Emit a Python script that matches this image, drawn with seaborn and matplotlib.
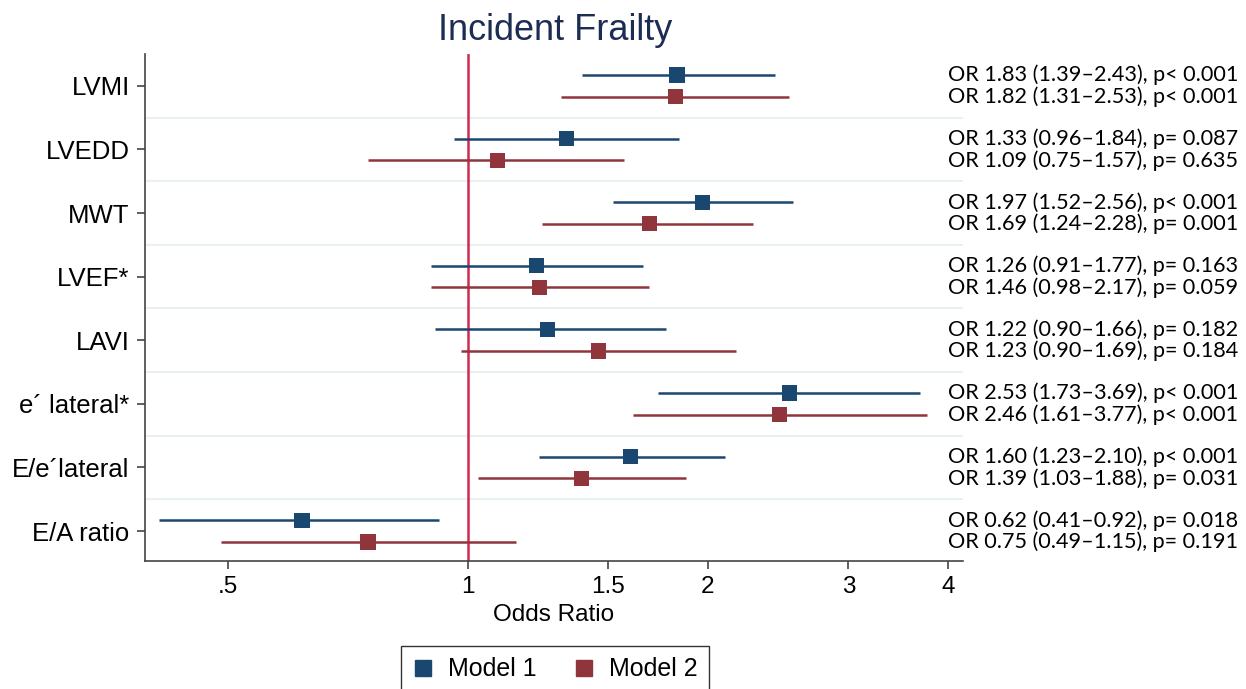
import numpy as np
import pandas as pd
import matplotlib
matplotlib.use("Agg")
from matplotlib import pyplot as plt
from matplotlib.lines import Line2D
from matplotlib.transforms import blended_transform_factory
import seaborn as sns

# data
rows = ['LVMI', 'LVEDD', 'MWT', 'LVEF*', 'LAVI', 'e\u00b4 lateral*', 'E/e\u00b4lateral', 'E/A ratio']
m1_or = [1.83, 1.33, 1.97, 1.22, 1.26, 2.53, 1.60, 0.62]
m1_lo = [1.39, 0.96, 1.52, 0.90, 0.91, 1.73, 1.23, 0.41]
m1_hi = [2.43, 1.84, 2.56, 1.66, 1.77, 3.69, 2.10, 0.92]
m2_or = [1.82, 1.09, 1.69, 1.23, 1.46, 2.46, 1.39, 0.75]
m2_lo = [1.31, 0.75, 1.24, 0.90, 0.98, 1.61, 1.03, 0.49]
m2_hi = [2.53, 1.57, 2.28, 1.69, 2.17, 3.77, 1.88, 1.15]
m1_txt = ['OR 1.83 (1.39\u20132.43), p< 0.001', 'OR 1.33 (0.96\u20131.84), p= 0.087',
          'OR 1.97 (1.52\u20132.56), p< 0.001', 'OR 1.26 (0.91\u20131.77), p= 0.163',
          'OR 1.22 (0.90\u20131.66), p= 0.182', 'OR 2.53 (1.73\u20133.69), p< 0.001',
          'OR 1.60 (1.23\u20132.10), p< 0.001', 'OR 0.62 (0.41\u20130.92), p= 0.018']
m2_txt = ['OR 1.82 (1.31\u20132.53), p< 0.001', 'OR 1.09 (0.75\u20131.57), p= 0.635',
          'OR 1.69 (1.24\u20132.28), p= 0.001', 'OR 1.46 (0.98\u20132.17), p= 0.059',
          'OR 1.23 (0.90\u20131.69), p= 0.184', 'OR 2.46 (1.61\u20133.77), p< 0.001',
          'OR 1.39 (1.03\u20131.88), p= 0.031', 'OR 0.75 (0.49\u20131.15), p= 0.191']
models = ['Model 1', 'Model 2']
xticks = [0.5, 1, 1.5, 2, 3, 4]
xtick_labels = ['.5', '1', '1.5', '2', '3', '4']

blue = '#1a476f'
red = '#90353b'
vline_col = '#d2284f'

n = len(rows)
pos = np.arange(n)
df = pd.DataFrame({
    'row': rows * 2,
    'model': ['Model 1'] * n + ['Model 2'] * n,
    'ypos': np.concatenate([pos - 0.17, pos + 0.17]),
    'or': m1_or + m2_or,
    'lo': m1_lo + m2_lo,
    'hi': m1_hi + m2_hi,
    'txt': m1_txt + m2_txt,
})

sns.set_style('white')
plt.rcParams['font.family'] = ['Liberation Sans', 'DejaVu Sans']
plt.rcParams['text.color'] = 'black'
plt.rcParams['axes.labelcolor'] = 'black'
plt.rcParams['xtick.labelcolor'] = 'black'
plt.rcParams['ytick.labelcolor'] = 'black'

fig = plt.figure(figsize=(12.46, 6.89), dpi=100)
W, H = 1246, 689
ax = fig.add_axes([145 / W, 1 - 561 / H, (963 - 145) / W, (561 - 54) / H])

pal = {'Model 1': blue, 'Model 2': red}
for i in pos:
    if i < n - 1:
        ax.axhline(i + 0.5, color='#e8f0f2', lw=1.5, zorder=0)
ax.axvline(1, color=vline_col, lw=1.8, zorder=1)

for m in models:
    d = df[df['model'] == m]
    ax.hlines(d['ypos'], d['lo'], d['hi'], color=pal[m], lw=1.8, zorder=2)
sns.scatterplot(data=df, x='or', y='ypos', hue='model', palette=pal, marker='s',
                s=120, linewidth=0, zorder=3, ax=ax, legend=False)

ax.set_xscale('log')
ax.set_xlim(0.394, 4.177)
ax.set_ylim(n - 0.53, -0.5)
ax.set_xticks(xticks)
ax.set_xticklabels(xtick_labels)
ax.minorticks_off()
ax.set_yticks(pos)
ax.set_yticklabels(rows)
ax.tick_params(axis='both', direction='out', length=6, width=1.2, color='#444444',
               labelsize=17.5, pad=5, left=True, bottom=True)
ax.tick_params(axis='y', labelsize=18.5)
for s in ['top', 'right']:
    ax.spines[s].set_visible(False)
for s in ['left', 'bottom']:
    ax.spines[s].set_color('#444444')
    ax.spines[s].set_linewidth(1.2)
ax.set_xlabel('Odds Ratio', fontsize=17.5, labelpad=4)
ax.set_ylabel('')

trans = blended_transform_factory(ax.transAxes, ax.transData)
xt = (948 - 145) / (963 - 145)
for _, r in df.iterrows():
    ax.text(xt, r['ypos'], r['txt'], transform=trans, ha='left', va='center',
            fontsize=15.6, family=['Lato', 'DejaVu Sans'], clip_on=False)

fig.text(555 / W, 1 - 31 / H, 'Incident Frailty', ha='center', va='center',
         fontsize=26, color='#1c2c52')

handles = [Line2D([], [], marker='s', ls='none', color=pal[m], markersize=12) for m in models]
leg = fig.legend(handles, models, loc='upper center', bbox_to_anchor=(555 / W, 1 - 646 / H),
                 ncol=2, fontsize=18, frameon=True, fancybox=False, edgecolor='black',
                 handlelength=0.8, handletextpad=0.6, columnspacing=1.5, borderpad=0.45,
                 borderaxespad=0)
leg.get_frame().set_linewidth(1.0)

fig.savefig('out.png', dpi=100)
